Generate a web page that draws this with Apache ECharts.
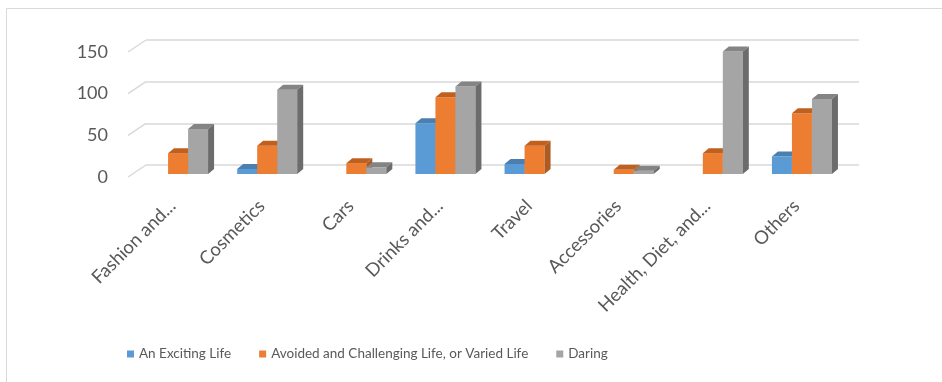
<!DOCTYPE html>
<html>
<head>
<meta charset="utf-8">
<script src="https://cdn.jsdelivr.net/npm/echarts@6/dist/echarts.min.js"></script>
<style>
  html, body { margin: 0; padding: 0; background: #fff; }
  #main { width: 942px; height: 382px; }
</style>
</head>
<body>
<div id="main"></div>
<script>
var categories = ['Fashion and...', 'Cosmetics', 'Cars', 'Drinks and...', 'Travel', 'Accessories', 'Health, Diet, and...', 'Others'];
var seriesNames = ['An Exciting Life', 'Avoided and Challenging Life, or Varied Life', 'Daring'];
var excitingLife = [0, 6, 0, 61, 12, 0, 0, 21];
var variedLife = [25, 34, 13, 92, 34, 5, 25, 73];
var daring = [54, 101, 8, 105, 0, 4, 147, 90];
var yTicks = [0, 50, 100, 150];

// front colour, top colour, side colour
var faceColors = [
    ['#5b9bd5', '#4a7fb0', '#41719c'],
    ['#ed7d31', '#c0601e', '#ae5a21'],
    ['#a5a5a5', '#848484', '#6c6c6c']
];

var myChart = echarts.init(document.getElementById('main'));

// 3D-looking bar: front face, top face, side face
function barRenderer(idx) {
    return function (params, api) {
        var val = api.value(1);
        if (!val) return null;
        var base = api.coord([api.value(0), 0]);
        var top = api.coord([api.value(0), val]);
        var band = api.size([1, 0])[0];
        var bw = band * 0.2245;
        var dx = 6, dy = 5;
        var x0 = base[0] + (idx - 1.5) * bw;
        var x1 = x0 + bw;
        var c = faceColors[idx];
        return {
            type: 'group',
            children: [
                { type: 'rect', shape: { x: x0, y: top[1], width: bw, height: base[1] - top[1] }, style: { fill: c[0] } },
                { type: 'polygon', shape: { points: [[x0, top[1]], [x0 + dx, top[1] - dy], [x1 + dx, top[1] - dy], [x1, top[1]]] }, style: { fill: c[1] } },
                { type: 'polygon', shape: { points: [[x1, top[1]], [x1 + dx, top[1] - dy], [x1 + dx, base[1] - dy], [x1, base[1]]] }, style: { fill: c[2] } }
            ]
        };
    };
}

var seriesData = [excitingLife, variedLife, daring];
var series = [];

// little diagonal floor lines at the left of each gridline
series.push({
    type: 'custom',
    xAxisIndex: 1,
    yAxisIndex: 1,
    silent: true,
    data: yTicks.map(function (v) { return [0, v]; }),
    renderItem: function (params, api) {
        var p = api.coord([0, api.value(1)]);
        var left = params.coordSys.x;
        return {
            type: 'line',
            shape: { x1: left, y1: p[1], x2: left - 18, y2: p[1] + 12 },
            style: { stroke: '#d9d9d9', lineWidth: 1.5 }
        };
    }
});

seriesNames.forEach(function (name, i) {
    series.push({
        name: name,
        type: 'custom',
        xAxisIndex: 0,
        yAxisIndex: 0,
        itemStyle: { color: faceColors[i][0] },
        data: seriesData[i].map(function (v, k) { return [k, v]; }),
        renderItem: barRenderer(i),
        encode: { x: 0, y: 1 }
    });
});

option = {
    animation: false,
    textStyle: { fontFamily: 'Lato' },
    grid: [
        { left: 133.5, right: 95.5, top: 49, bottom: 208 },
        { left: 146, right: 83, top: 40, bottom: 217 },
        { left: 128, right: 101, top: 52, bottom: 205 }
    ],
    legend: {
        left: 122,
        top: 342,
        itemWidth: 7,
        itemHeight: 7,
        itemGap: 28,
        icon: 'rect',
        data: seriesNames,
        textStyle: { color: '#595959', fontSize: 13.5, fontFamily: 'Lato' }
    },
    xAxis: [
        { type: 'category', gridIndex: 0, data: categories, show: false },
        { type: 'category', gridIndex: 1, data: categories, show: false },
        {
            type: 'category', gridIndex: 2, data: categories,
            axisLine: { show: false }, axisTick: { show: false },
            axisLabel: { rotate: 45, margin: 26, color: '#595959', fontSize: 18.5, interval: 0 }
        }
    ],
    yAxis: [
        { type: 'value', gridIndex: 0, min: 0, max: 150, interval: 50, show: false },
        {
            type: 'value', gridIndex: 1, min: 0, max: 150, interval: 50,
            axisLabel: { show: false }, axisLine: { show: false }, axisTick: { show: false },
            splitLine: { lineStyle: { color: '#d9d9d9', width: 1.5 } }
        },
        {
            type: 'value', gridIndex: 2, min: 0, max: 150, interval: 50,
            axisLine: { show: false }, axisTick: { show: false }, splitLine: { show: false },
            axisLabel: { margin: 20, color: '#595959', fontSize: 18 }
        }
    ],
    graphic: [
        { type: 'rect', shape: { x: 6.5, y: 8.5, width: 960, height: 400 }, style: { fill: null, stroke: '#d9d9d9', lineWidth: 1 }, silent: true }
    ],
    series: series
};

myChart.setOption(option);
</script>
</body>
</html>
